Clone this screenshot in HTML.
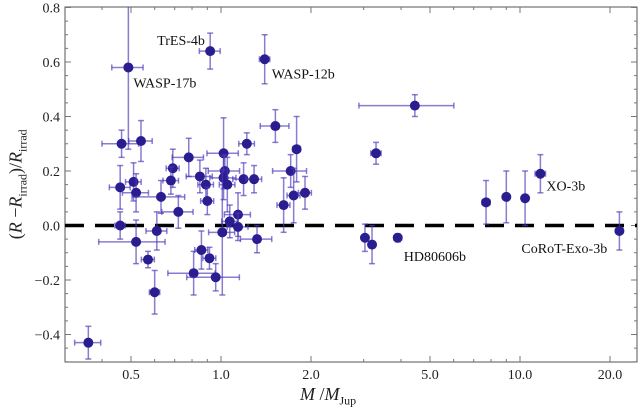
<!DOCTYPE html>
<html><head><meta charset="utf-8"><style>
body{margin:0;background:#fff;}
svg{display:block;}
</style></head><body>
<svg id="chart" width="639" height="415" style="font-family:'Liberation Serif','DejaVu Serif',serif"></svg>
<script>
const masses=[0.49,0.92,1.40,0.465,0.54,0.78,1.02,1.22,1.52,1.79,1.71,1.75,1.91,1.62,3.30,4.45,0.46,0.51,0.52,0.63,0.69,0.68,0.85,0.89,0.90,1.03,1.02,1.05,1.19,1.29,0.72,0.46,0.52,0.61,0.57,0.60,0.36,0.81,0.86,0.915,0.96,1.01,1.07,1.14,1.14,1.32,3.03,3.2,3.9,7.7,9.0,10.4,11.7,21.5];
const values=[0.58,0.64,0.61,0.30,0.31,0.25,0.265,0.30,0.365,0.28,0.20,0.11,0.12,0.075,0.265,0.44,0.14,0.16,0.12,0.105,0.21,0.165,0.18,0.15,0.09,0.20,0.175,0.15,0.17,0.17,0.05,0.0,-0.06,-0.02,-0.125,-0.245,-0.43,-0.175,-0.09,-0.12,-0.19,-0.025,0.015,0.04,-0.005,-0.05,-0.045,-0.07,-0.045,0.085,0.105,0.10,0.19,-0.02];
const yErrors=[0.3,0.066,0.09,0.05,0.075,0.07,0.13,0.04,0.06,0.12,0.06,0.1,0.06,0.1,0.04,0.04,0.08,0.07,0.07,0.06,0.07,0.05,0.06,0.06,0.05,0.06,0.08,0.1,0.06,0.05,0.06,0.05,0.08,0.07,0.03,0.08,0.06,0.08,0.07,0.04,0.05,0.23,0.06,0.08,0.05,0.05,0.05,0.07,0.015,0.08,0.095,0.1,0.07,0.07];
const xErrFrac=[0.12,0.08,0.04,0.14,0.09,0.12,0.12,0.06,0.11,0.03,0.13,0.05,0.05,0.05,0.04,0.35,0.08,0.06,0.1,0.2,0.05,0.06,0.1,0.06,0.05,0.12,0.1,0.06,0.08,0.06,0.12,0.04,0.25,0.08,0.05,0.04,0.1,0.18,0.05,0.05,0.2,0.1,0.06,0.1,0.08,0.12,0.02,0.02,0.03,0.03,0.02,0.02,0.04,0.02];
const yTicks=[-0.4,-0.2,0.0,0.2,0.4,0.6,0.8];
const xTickLabels=["0.5","1.0","2.0","5.0","10.0","20.0"];
const xTicks=[0.5,1,2,5,10,20];
const planetLabels=[["WASP-17b",0.49,0.58,5,20],["TrES-4b",0.92,0.64,-53,-6],["WASP-12b",1.40,0.61,7,19],["HD80606b",3.9,-0.045,6,23],["XO-3b",11.7,0.19,6,17],["CoRoT-Exo-3b",21.5,-0.02,-98,22]];

const L=65,R=637,T=7,B=362;
const xs=m=>221+299*Math.log10(m);
const ys=v=>225.5-272.5*v;
const svg=document.getElementById('chart');
const NS='http://www.w3.org/2000/svg';
const FONT="font-family:'Liberation Serif','DejaVu Serif',serif";
function el(tag,attrs,parent){const e=document.createElementNS(NS,tag);for(const k in attrs)e.setAttribute(k,attrs[k]);(parent||svg).appendChild(e);return e;}

const frame=el('rect',{x:L,y:T,width:R-L,height:B-T,fill:'none',stroke:'#555','stroke-width':1});



for(let v=-0.5;v<=0.8001;v+=0.05){
  const y=ys(v);const major=Math.abs(Math.round(v*10)/10-v)<1e-6&&Math.round(v*10)%2===0;
  const len=major?6:3;
  el('line',{x1:L,x2:L+len,y1:y,y2:y,stroke:'#777'});
  el('line',{x1:R,x2:R-len,y1:y,y2:y,stroke:'#777'});
}
yTicks.forEach(v=>{
  const t=el('text',{x:L-5,y:ys(v)+5,'text-anchor':'end','font-size':14,fill:'#222',style:FONT});
  t.textContent=v.toFixed(1).replace('-','\u2212');
  
  
});
const minor=[0.4,0.6,0.7,0.8,0.9,3,4,6,7,8,9];
minor.forEach(m=>{const x=xs(m);el('line',{x1:x,x2:x,y1:B,y2:B-3,stroke:'#777'});el('line',{x1:x,x2:x,y1:T,y2:T+3,stroke:'#777'});});
xTicks.forEach((m,i)=>{
  const x=xs(m);
  el('line',{x1:x,x2:x,y1:B,y2:B-6,stroke:'#777'});el('line',{x1:x,x2:x,y1:T,y2:T+6,stroke:'#777'});
  const t=el('text',{x:x,y:B+17,'text-anchor':'middle','font-size':14,fill:'#222',style:FONT});
  t.textContent=xTickLabels[i];
  
  
});
const z=el('line',{x1:L,x2:R,y1:ys(0),y2:ys(0),stroke:'#000','stroke-width':3.5,'stroke-dasharray':'19,11'});



masses.forEach((m,i)=>{
  const g=el('g',{});
  
  
  const x=xs(m),y=ys(values[i]);
  const y1=Math.max(T,ys(values[i]+yErrors[i])),y2=ys(values[i]-yErrors[i]);
  const x1=xs(m*(1-xErrFrac[i])),x2=xs(m*(1+xErrFrac[i]));
  const c='rgba(75,55,185,0.65)';
  el('line',{x1:x,x2:x,y1:y1,y2:y2,stroke:c,'stroke-width':1.5},g);
  if(y1>T)el('line',{x1:x-3,x2:x+3,y1:y1,y2:y1,stroke:c,'stroke-width':1.5},g);
  el('line',{x1:x-3,x2:x+3,y1:y2,y2:y2,stroke:c,'stroke-width':1.5},g);
  el('line',{x1:x1,x2:x2,y1:y,y2:y,stroke:c,'stroke-width':1.5},g);
  el('line',{x1:x1,x2:x1,y1:y-3,y2:y+3,stroke:c,'stroke-width':1.5},g);
  el('line',{x1:x2,x2:x2,y1:y-3,y2:y+3,stroke:c,'stroke-width':1.5},g);
  el('circle',{cx:x,cy:y,r:5,fill:'#2a1d90'},g);
});
planetLabels.forEach(p=>{
  const t=el('text',{x:xs(p[1])+p[3],y:ys(p[2])+p[4],'font-size':14,fill:'#111',style:FONT});
  t.textContent=p[0];
  
  
});
</script>
<div style="position:absolute;left:0;top:0;width:639px;height:415px;pointer-events:none;font-family:'Liberation Serif',serif;">
  <div style="position:absolute;left:300px;top:384px;font-size:18px;color:#222;"><i>M</i> /<i>M</i><sub style="font-size:12px">Jup</sub></div>
  <div style="position:absolute;left:-62px;top:172px;width:160px;text-align:center;transform:rotate(-90deg);font-size:18px;color:#222;white-space:nowrap;">(<i>R</i> &minus;<i>R</i><sub style="font-size:12px">irrad</sub>)/<i>R</i><sub style="font-size:12px">irrad</sub></div>
</div>
</body></html>
